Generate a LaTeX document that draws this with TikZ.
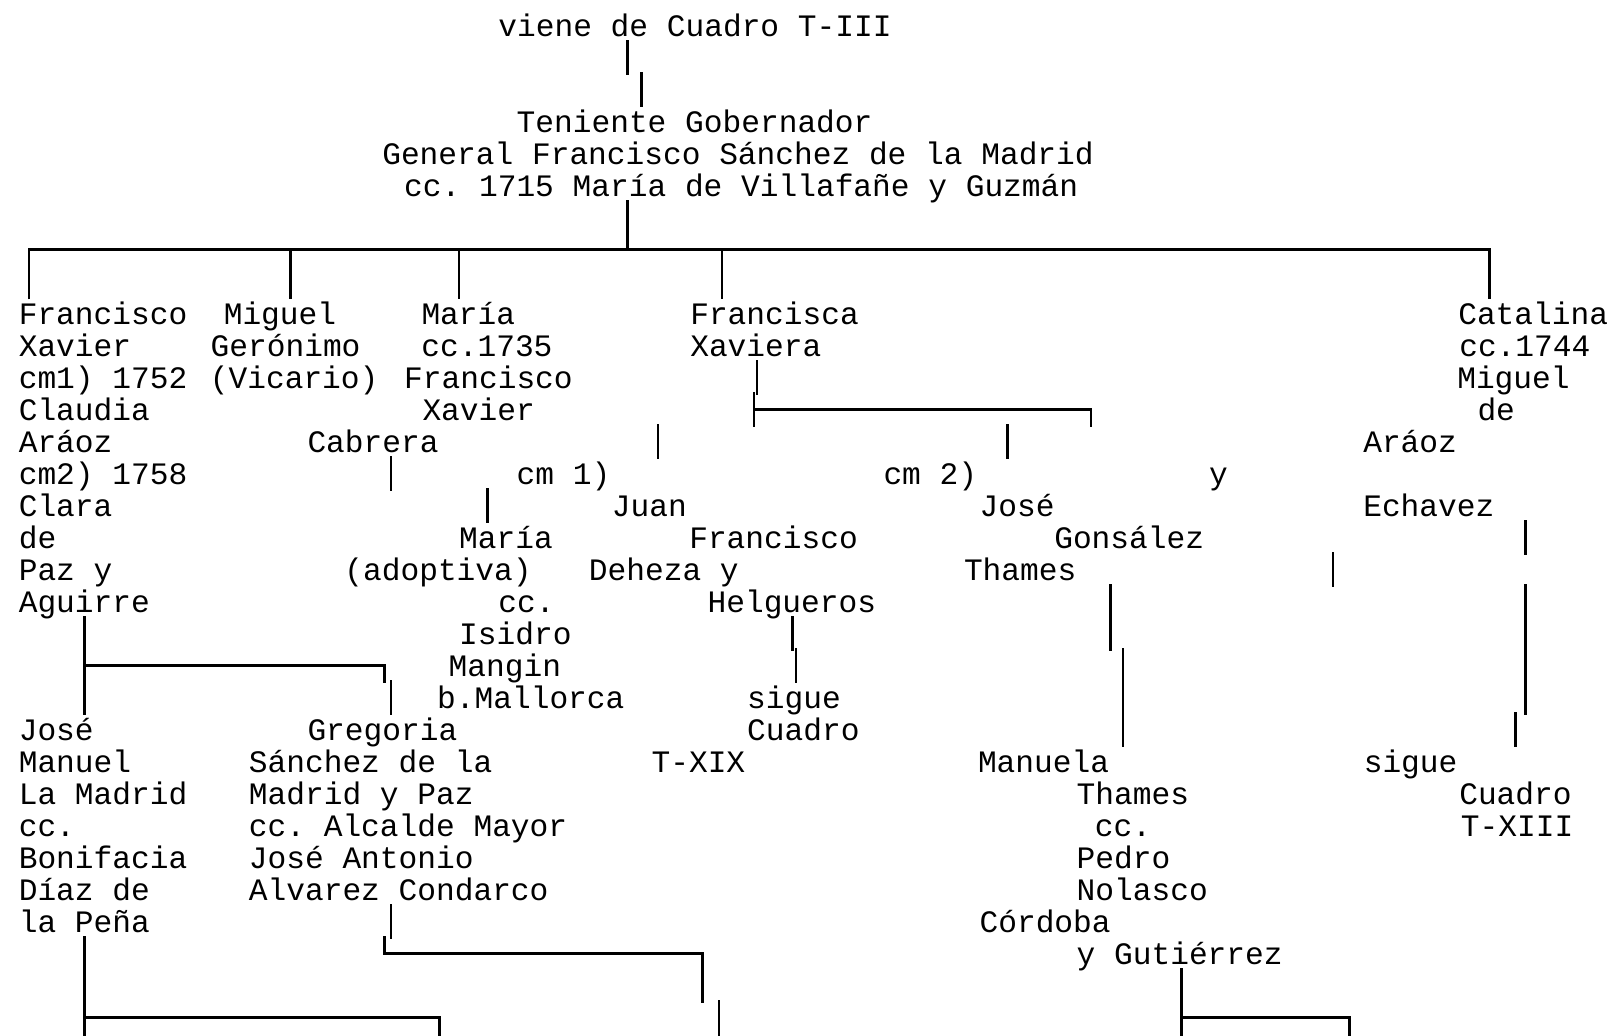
\documentclass[tikz,border=0pt]{standalone}
\usepackage{fontspec}
\newfontfamily\chartfont{Liberation Mono}
\newcommand\vln[3]{\draw[ln] (#1,{#2-0.834}) -- (#1,{#3+0.266});}
\begin{document}
\begin{tikzpicture}[x=0.5pt,y=-16pt]
\tikzset{txt/.style={anchor=base west,inner sep=0pt,yshift=-1pt,font=\chartfont\fontsize{15.6pt}{16pt}\selectfont\frenchspacing},
  ln/.style={line width=1.25pt}}
\useasboundingbox (0,-1.0875) rectangle (1614,31.2875);
\node[txt] (viene) at (498,0) {viene de Cuadro T-III};
\node[txt] (gob1) at (516.3,3) {Teniente Gobernador};
\node[txt] (gob2) at (381.9,4) {General Francisco Sánchez de la Madrid};
\node[txt] (gob3) at (403.8,5) {cc. 1715 María de Villafañe y Guzmán};
\foreach \t [count=\i from 9] in {Francisco,Xavier,cm1) 1752,Claudia,Aráoz,cm2) 1758,Clara,de,Paz y,Aguirre}
  \node[txt] (fxav\i) at (18.4,\i) {\t};
\foreach \x/\r/\t [count=\i] in {223.4/9/Miguel,210.3/10/Gerónimo,209.5/11/(Vicario)}
  \node[txt] (mig\i) at (\x,\r) {\t};
\foreach \x/\r/\t [count=\i] in {421.1/9/María,421/10/cc.1735,403.8/11/Francisco,422.1/12/Xavier,307.1/13/Cabrera}
  \node[txt] (mar\i) at (\x,\r) {\t};
\foreach \x/\r/\t [count=\i] in {516.3/14/cm 1),458.8/16/María,344/17/(adoptiva),498/18/cc.,458.8/19/Isidro,448.3/20/Mangin,436.8/21/b.Mallorca}
  \node[txt] (ado\i) at (\x,\r) {\t};
\foreach \x/\r/\t [count=\i] in {689.9/9/Francisca,689.9/10/Xaviera}
  \node[txt] (fca\i) at (\x,\r) {\t};
\foreach \x/\r/\t [count=\i] in {611.5/15/Juan,688.9/16/Francisco,588.5/17/Deheza y,707.2/18/Helgueros,746.8/21/sigue,746.8/22/Cuadro,651.2/23/T-XIX}
  \node[txt] (jua\i) at (\x,\r) {\t};
\foreach \x/\r/\t [count=\i] in {883.1/14/cm 2),979.2/15/José,1053.9/16/Gonsález,963.6/17/Thames,1208.7/14/y}
  \node[txt] (jgt\i) at (\x,\r) {\t};
\foreach \x/\r/\t [count=\i] in {977.6/23/Manuela,1076.3/24/Thames,1094.5/25/cc.,1076.3/26/Pedro,1076.3/27/Nolasco,979.2/28/Córdoba,1076.3/29/y Gutiérrez}
  \node[txt] (man\i) at (\x,\r) {\t};
\foreach \x/\r/\t [count=\i] in {1457.9/9/Catalina,1458.9/10/cc.1744,1456.9/11/Miguel,1477.1/12/de,1362.9/13/Aráoz,1362.9/15/Echavez,1363.4/23/sigue,1458.9/24/Cuadro,1460.5/25/T-XIII}
  \node[txt] (cat\i) at (\x,\r) {\t};
\foreach \t [count=\i from 22] in {José,Manuel,La Madrid,cc.,Bonifacia,Díaz de,la Peña}
  \node[txt] (jman\i) at (18.4,\i) {\t};
\node[txt] (gre1) at (307.1,22) {Gregoria};
\foreach \t [count=\i from 23] in {Sánchez de la,Madrid y Paz,cc. Alcalde Mayor,José Antonio,Alvarez Condarco}
  \node[txt] (gre\i) at (248.5,\i) {\t};
\vln{627.6}{1}{1}
\vln{641.7}{2}{2}
\draw[ln] (627.6,{6-0.834}) -- (627.6,{7-0.284});
\draw[ln] (28.8,{8+0.266}) |- (1489.5,{7-0.284}) -- (1489.5,{8+0.266});
\foreach \x in {290.3,459.2,721.8} \draw[ln] (\x,{7-0.284}) -- (\x,{8+0.266});
\vln{756.8}{11}{11}
\vln{754.2}{12}{12}
\draw[ln] (754.2,{12-0.284}) -| (1090.8,{12+0.266});
\vln{658}{13}{13}
\vln{1007.7}{13}{13}
\vln{391.2}{14}{14}
\vln{487.4}{15}{15}
\vln{1525.3}{16}{16}
\vln{1333.2}{17}{17}
\vln{1525.3}{18}{21}
\vln{1515.5}{22}{22}
\vln{1110.5}{18}{19}
\vln{1123}{20}{22}
\vln{792.4}{19}{19}
\vln{796}{20}{20}
\vln{84.7}{19}{21}
\draw[ln] (84.7,{20-0.284}) -| (384.4,{20+0.266});
\vln{391.2}{21}{21}
\vln{391.2}{28}{28}
\draw[ln] (384.4,{29-0.834}) |- (702.4,{29-0.284}) -- (702.4,{30+0.266});
\draw[ln] (719.1,{31-0.834}) -- (719.1,31.4);
\draw[ln] (84.7,{29-0.834}) -- (84.7,31.4);
\draw[ln] (84.7,{31-0.284}) -| (439.3,31.4);
\draw[ln] (1181.6,{30-0.834}) -- (1181.6,31.4);
\draw[ln] (1181.6,{31-0.284}) -| (1349.3,31.4);
\end{tikzpicture}
\end{document}
